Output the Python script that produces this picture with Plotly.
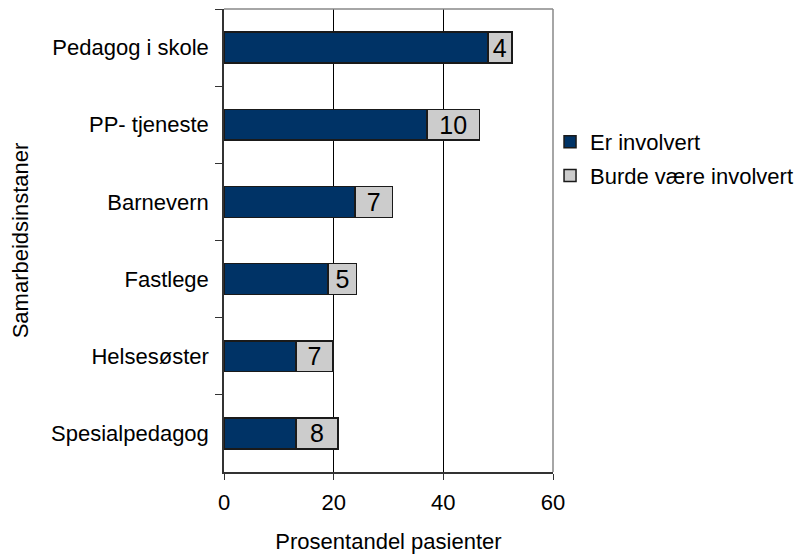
import plotly.graph_objects as go

categories = ["Pedagog i skole", "PP- tjeneste", "Barnevern", "Fastlege", "Helsesøster", "Spesialpedagog"]
er_involvert = [48.1, 37.0, 23.9, 19.0, 13.1, 13.1]
burde_vaere = [4.4, 9.6, 6.8, 5.2, 6.8, 7.7]
burde_labels = ["4", "10", "7", "5", "7", "8"]
x_ticks = [0, 20, 40, 60]

FONT = "Liberation Sans, Arial, sans-serif"
FS = 22

fig = go.Figure()
fig.add_trace(go.Bar(
    y=categories, x=er_involvert, orientation="h", name="Er involvert",
    legendgroup="a",
    marker=dict(color="#003366", line=dict(color="#1a1a1a", width=1.5)),
    hoverinfo="x+y",
))
fig.add_trace(go.Bar(
    y=categories, x=burde_vaere, orientation="h", name="Burde være involvert",
    legendgroup="b",
    marker=dict(color="#cccccc", line=dict(color="#1a1a1a", width=1.5)),
    text=burde_labels, textposition="inside", insidetextanchor="middle",
    textfont=dict(family=FONT, size=25, color="black"),
    constraintext="none", textangle=0,
))

# page body has an 8px margin, so the figure is drawn 8px in from the top-left
fig.update_layout(
    barmode="stack",
    bargap=0.6,
    width=796, height=549,
    margin=dict(l=216, r=251, t=1, b=85, autoexpand=False),
    plot_bgcolor="white", paper_bgcolor="white",
    font=dict(family=FONT, size=FS, color="black"),
    uniformtext=dict(mode=False),
    legend=dict(x=0.991, y=0.758, xanchor="left", yanchor="top",
                font=dict(family=FONT, size=FS, color="black"),
                traceorder="grouped", tracegroupgap=2, itemwidth=30,
                bgcolor="rgba(0,0,0,0)"),
    xaxis=dict(range=[0, 60], tickvals=x_ticks, ticktext=[str(v) for v in x_ticks],
               showgrid=True, gridcolor="black", gridwidth=1,
               showline=True, linecolor="#333333", linewidth=1.5,
               ticks="outside", ticklen=6, tickcolor="#333333",
               tickfont=dict(family=FONT, size=FS), ticklabelstandoff=4,
               title=dict(text="Prosentandel pasienter", font=dict(family=FONT, size=FS), standoff=19),
               zeroline=False, fixedrange=True, automargin=False),
    yaxis=dict(categoryorder="array", categoryarray=categories, autorange="reversed",
               showline=True, linecolor="#333333", linewidth=1.5,
               ticks="outside", ticklen=7, tickcolor="#333333", tickson="boundaries",
               tickfont=dict(family=FONT, size=FS), ticklabelstandoff=9,
               title=dict(text="Samarbeidsinstaner", font=dict(family=FONT, size=FS), standoff=18),
               showgrid=False, fixedrange=True, automargin=False),
)
fig.add_shape(type="line", xref="paper", yref="paper", x0=0, x1=1, y0=1, y1=1,
              line=dict(color="#888888", width=1.5))
fig.add_shape(type="line", xref="paper", yref="paper", x0=1, x1=1, y0=0, y1=1,
              line=dict(color="#888888", width=1.5))

fig.write_html("out.html")
